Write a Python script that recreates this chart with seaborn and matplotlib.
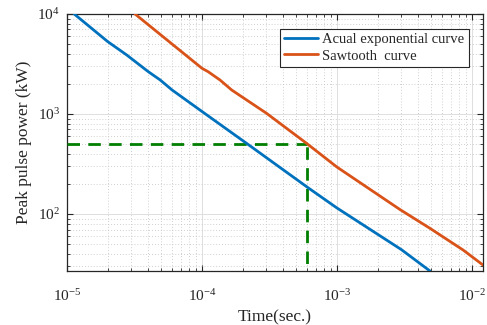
import matplotlib
matplotlib.use("Agg")
import matplotlib.pyplot as plt
import matplotlib.ticker as mticker
import numpy as np
import pandas as pd
import seaborn as sns

# ---- data ----
blue_time = [1.13e-5, 2.0e-5, 2.77e-5, 4.0e-5, 4.9e-5, 6.0e-5, 9.66e-5,
             2.14e-4, 6.12e-4, 1.0e-3, 3.01e-3, 4.9e-3]
blue_power = [1.0e4, 5300, 3890, 2650, 2190, 1740, 1096,
              509, 183, 115, 44, 26.9]

orange_time = [3.19e-5, 1.0e-4, 1.11e-4, 1.36e-4, 1.66e-4, 3.01e-4, 5.96e-4,
               1.0e-3, 2.93e-3, 4.89e-3, 8.63e-3, 1.21e-2]
orange_power = [1.0e4, 2865, 2650, 2188, 1738, 1016, 509,
                295, 111, 72, 43.6, 30.9]

ref_time = 6.0e-4
ref_power = 500

series_names = ["Acual exponential curve", "Sawtooth  curve"]
x_label = "Time(sec.)"
y_label = "Peak pulse power (kW)"

# ---- style ----
sns.set_style("ticks")
plt.rcParams["font.family"] = ["Liberation Serif", "DejaVu Serif"]
plt.rcParams["mathtext.fontset"] = "custom"
plt.rcParams["mathtext.rm"] = "Liberation Serif"
plt.rcParams["mathtext.it"] = "Liberation Serif:italic"
plt.rcParams["mathtext.default"] = "rm"

df = pd.concat([
    pd.DataFrame({"time": blue_time, "power": blue_power, "series": series_names[0]}),
    pd.DataFrame({"time": orange_time, "power": orange_power, "series": series_names[1]}),
])

fig = plt.figure(figsize=(4.87, 3.25), dpi=100)
ax = fig.add_axes([0.1376, 0.166, 0.8542, 0.791])

ax.set_xscale("log")
ax.set_yscale("log")

# reference dashed lines
ax.plot([1e-5, ref_time], [ref_power, ref_power], color="#007f00", lw=2.0,
        ls=(0, (4.5, 3)), zorder=3)
ax.plot([ref_time, ref_time], [1, ref_power], color="#007f00", lw=2.0,
        ls=(0, (4.5, 3)), zorder=3)

sns.lineplot(data=df, x="time", y="power", hue="series",
             palette=["#0072BD", "#D95319"], lw=2.0, ax=ax, zorder=4,
             estimator=None, sort=False)

ax.set_xlim(1e-5, 1.21e-2)
ax.set_ylim(26.9, 1e4)

ax.xaxis.set_major_locator(mticker.LogLocator(base=10, numticks=10))
ax.yaxis.set_major_locator(mticker.LogLocator(base=10, numticks=10))
ax.xaxis.set_minor_locator(mticker.LogLocator(base=10, subs=np.arange(2, 10), numticks=20))
ax.yaxis.set_minor_locator(mticker.LogLocator(base=10, subs=np.arange(2, 10), numticks=20))
ax.xaxis.set_minor_formatter(mticker.NullFormatter())
ax.yaxis.set_minor_formatter(mticker.NullFormatter())

ax.grid(True, which="major", color="#dedede", lw=0.7, ls="-")
ax.grid(True, which="minor", color="#c0c0c0", lw=0.6, ls=(0, (1, 2.5)))
ax.set_axisbelow(True)

ax.tick_params(which="both", direction="in", top=True, right=True,
               colors="#262626", labelcolor="#262626")
ax.tick_params(which="major", length=4.5, width=0.8, labelsize=11)
ax.tick_params(which="minor", length=2.5, width=0.6)
ax.tick_params(axis="x", which="major", pad=12)
ax.tick_params(axis="y", which="major", pad=5)

for sp in ax.spines.values():
    sp.set_color("#262626")
    sp.set_linewidth(0.9)

ax.set_xlabel(x_label, fontsize=12.5, color="#262626", labelpad=4)
ax.set_ylabel(y_label, fontsize=12.5, color="#262626", labelpad=4)

leg = ax.legend(loc="upper right", bbox_to_anchor=(0.966, 0.942), fontsize=10.5,
                frameon=True, fancybox=False, framealpha=1, edgecolor="#262626",
                handlelength=2.3, labelspacing=0.2, borderpad=0.3,
                handletextpad=0.3, borderaxespad=0)
leg.get_frame().set_linewidth(0.8)
leg.set_zorder(10)

fig.savefig("out.png", dpi=100)
